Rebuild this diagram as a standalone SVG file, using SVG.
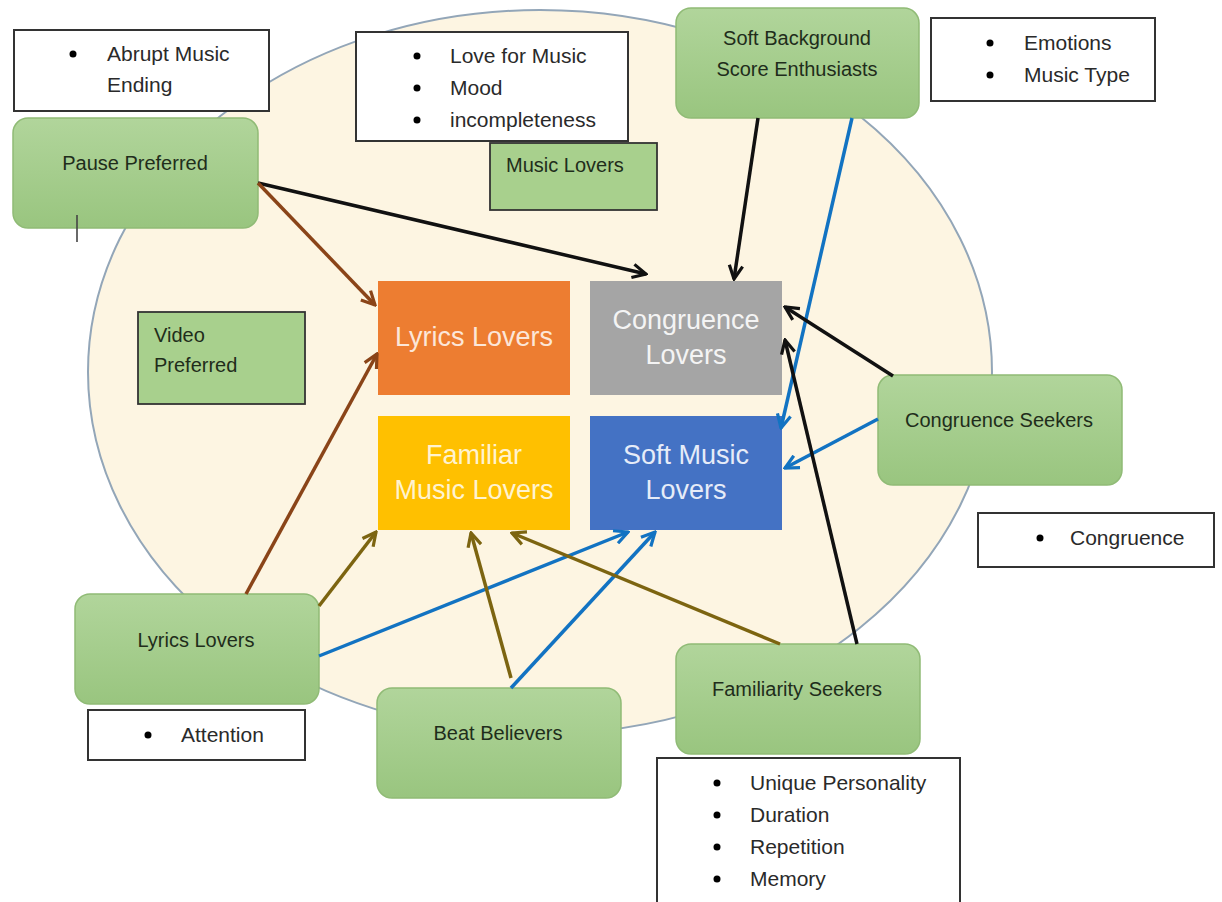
<svg xmlns="http://www.w3.org/2000/svg" width="1222" height="902" viewBox="0 0 1222 902">
<defs>
<linearGradient id="gg" x1="0" y1="0" x2="0" y2="1">
<stop offset="0" stop-color="#b1d59b"/>
<stop offset="1" stop-color="#99c57f"/>
</linearGradient>
<marker id="mk" viewBox="0 0 10 10" refX="9" refY="5" markerWidth="4.8" markerHeight="4.8" orient="auto" markerUnits="strokeWidth"><path d="M1,1 L9,5 L1,9" fill="none" stroke="#111" stroke-width="1.9"/></marker>
<marker id="mbr" viewBox="0 0 10 10" refX="9" refY="5" markerWidth="4.8" markerHeight="4.8" orient="auto" markerUnits="strokeWidth"><path d="M1,1 L9,5 L1,9" fill="none" stroke="#8a4418" stroke-width="1.9"/></marker>
<marker id="mol" viewBox="0 0 10 10" refX="9" refY="5" markerWidth="4.8" markerHeight="4.8" orient="auto" markerUnits="strokeWidth"><path d="M1,1 L9,5 L1,9" fill="none" stroke="#7c6410" stroke-width="1.9"/></marker>
<marker id="mbl" viewBox="0 0 10 10" refX="9" refY="5" markerWidth="4.8" markerHeight="4.8" orient="auto" markerUnits="strokeWidth"><path d="M1,1 L9,5 L1,9" fill="none" stroke="#1273c2" stroke-width="1.9"/></marker>
</defs>
<style>
text{font-family:"Liberation Sans",Arial,sans-serif}
.g{fill:url(#gg);stroke:#90bb76;stroke-width:1.5}
.gt{font-size:20px;fill:#1f2d1b;text-anchor:middle}
.w{fill:#fff;stroke:#333;stroke-width:2}
.bt{font-size:21px;fill:#2a2a2a}
.sq{fill:#a8d08d;stroke:#333;stroke-width:1.8}
.st{font-size:20px;fill:#1f2d1b}
.ct{font-size:27px;text-anchor:middle}
.c{stroke-width:3.5;fill:none}
.k{stroke:#111;marker-end:url(#mk)}
.br{stroke:#8a4418;marker-end:url(#mbr)}
.ol{stroke:#7c6410;marker-end:url(#mol)}
.bl{stroke:#1273c2;marker-end:url(#mbl)}
</style>
<rect width="1222" height="902" fill="#fff"/>
<ellipse id="bg" cx="540" cy="372" rx="452" ry="362" fill="#fdf5e2" stroke="#93a6b8" stroke-width="2"/>

<g id="abrupt"><rect class="w" x="14" y="30" width="255" height="81"/><circle cx="73" cy="54" r="3.5"/><text class="bt" x="107" y="61">Abrupt Music</text><text class="bt" x="107" y="92">Ending</text></g>
<g id="pause"><rect class="g" x="13" y="118" width="245" height="110" rx="15"/><text class="gt" x="135" y="170">Pause Preferred</text><line x1="77" y1="215" x2="77" y2="242" stroke="#444" stroke-width="1.6"/></g>
<g id="love"><rect class="w" x="356" y="32" width="272" height="109"/><circle cx="417" cy="56" r="3.5"/><circle cx="417" cy="88" r="3.5"/><circle cx="417" cy="120" r="3.5"/><text class="bt" x="450" y="63">Love for Music</text><text class="bt" x="450" y="95">Mood</text><text class="bt" x="450" y="127">incompleteness</text></g>
<g id="musiclovers"><rect class="sq" x="490" y="143" width="167" height="67"/><text class="st" x="506" y="172">Music Lovers</text></g>
<g id="softbg"><rect class="g" x="676" y="8" width="243" height="110" rx="15"/><text class="gt" x="797" y="45">Soft Background</text><text class="gt" x="797" y="76">Score Enthusiasts</text></g>
<g id="emotions"><rect class="w" x="931" y="18" width="224" height="83"/><circle cx="990" cy="43" r="3.5"/><circle cx="990" cy="75" r="3.5"/><text class="bt" x="1024" y="50">Emotions</text><text class="bt" x="1024" y="82">Music Type</text></g>
<g id="video"><rect class="sq" x="138" y="312" width="167" height="92"/><text class="st" x="154" y="342">Video</text><text class="st" x="154" y="372">Preferred</text></g>

<g id="lyrics"><rect x="378" y="281" width="192" height="114" fill="#ed7d31"/><text class="ct" x="474" y="346" fill="#fce6d8">Lyrics Lovers</text></g>
<g id="congruence"><rect x="590" y="281" width="192" height="114" fill="#a5a5a5"/><text class="ct" x="686" y="329" fill="#f4f4f4">Congruence</text><text class="ct" x="686" y="364" fill="#f4f4f4">Lovers</text></g>
<g id="familiar"><rect x="378" y="416" width="192" height="114" fill="#ffc000"/><text class="ct" x="474" y="464" fill="#fff3d0">Familiar</text><text class="ct" x="474" y="499" fill="#fff3d0">Music Lovers</text></g>
<g id="soft"><rect x="590" y="416" width="192" height="114" fill="#4472c4"/><text class="ct" x="686" y="464" fill="#e6ecf8">Soft Music</text><text class="ct" x="686" y="499" fill="#e6ecf8">Lovers</text></g>

<g id="congseek"><rect class="g" x="878" y="375" width="244" height="110" rx="15"/><text class="gt" x="999" y="427">Congruence Seekers</text></g>
<g id="congbox"><rect class="w" x="978" y="513" width="236" height="54"/><circle cx="1040" cy="538" r="3.5"/><text class="bt" x="1070" y="545">Congruence</text></g>
<g id="lyricsg"><rect class="g" x="75" y="594" width="244" height="110" rx="15"/><text class="gt" x="196" y="647">Lyrics Lovers</text></g>
<g id="attention"><rect class="w" x="88" y="710" width="217" height="50"/><circle cx="148" cy="735" r="3.5"/><text class="bt" x="181" y="742">Attention</text></g>
<g id="beat"><rect class="g" x="377" y="688" width="244" height="110" rx="15"/><text class="gt" x="498" y="740">Beat Believers</text></g>
<g id="famseek"><rect class="g" x="676" y="644" width="244" height="110" rx="15"/><text class="gt" x="797" y="696">Familiarity Seekers</text></g>
<g id="unique"><rect class="w" x="657" y="758" width="303" height="150"/><circle cx="717" cy="783" r="3.5"/><circle cx="717" cy="815" r="3.5"/><circle cx="717" cy="847" r="3.5"/><circle cx="717" cy="879" r="3.5"/><text class="bt" x="750" y="790">Unique Personality</text><text class="bt" x="750" y="822">Duration</text><text class="bt" x="750" y="854">Repetition</text><text class="bt" x="750" y="886">Memory</text></g>

<g id="connectors">
<line class="c k" x1="258" y1="183" x2="646" y2="274"/>
<line class="c br" x1="258" y1="183" x2="375" y2="305"/>
<line class="c k" x1="758" y1="118" x2="734" y2="279"/>
<line class="c bl" x1="852" y1="118" x2="781" y2="428"/>
<line class="c k" x1="893" y1="376" x2="785" y2="307"/>
<line class="c bl" x1="878" y1="419" x2="785" y2="468"/>
<line class="c k" x1="857" y1="644" x2="785" y2="340"/>
<line class="c br" x1="246" y1="594" x2="377" y2="354"/>
<line class="c ol" x1="319" y1="606" x2="376" y2="532"/>
<line class="c bl" x1="319" y1="656" x2="628" y2="532"/>
<line class="c ol" x1="511" y1="678" x2="471" y2="533"/>
<line class="c bl" x1="511" y1="688" x2="655" y2="532"/>
<line class="c ol" x1="780" y1="644" x2="512" y2="533"/>
</g>
</svg>
